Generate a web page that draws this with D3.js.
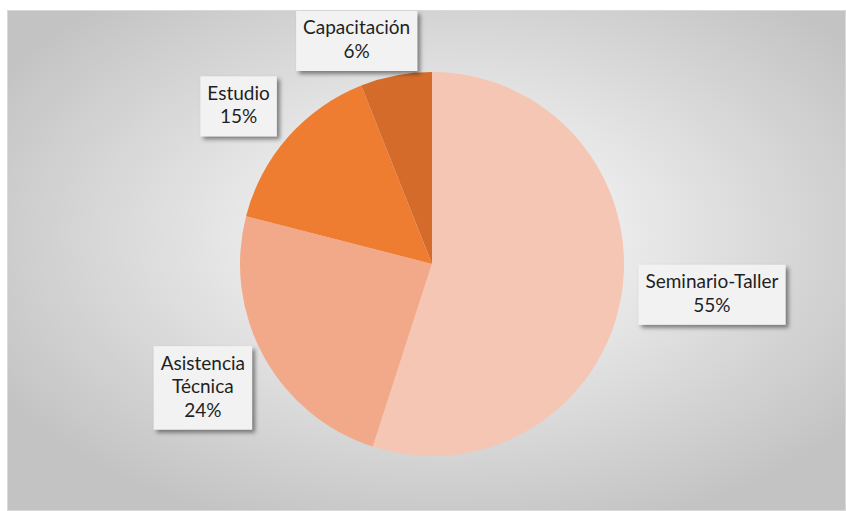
<!DOCTYPE html>
<html>
<head>
<meta charset="utf-8">
<script src="https://cdn.jsdelivr.net/npm/d3@7"></script>
<style>
  body { margin: 0; background: #fff; }
  svg { display: block; }
</style>
</head>
<body>
<svg></svg>
<script>
const categories = ['Seminario-Taller', 'Asistencia Técnica', 'Estudio', 'Capacitación'];
const values = [55, 24, 15, 6];
const labelLines = [['Seminario-Taller'], ['Asistencia', 'Técnica'], ['Estudio'], ['Capacitación']];
const colors = ['#F5C6B3', '#F1A98A', '#EE7D32', '#D46B2A'];

const width = 846;
const height = 511;
const cx = 432;
const cy = 264;
const radius = 192;
const lineH = 23.5;

// small hand tweaks so the label boxes sit where the original has them
const labelNudge = [[10, -12], [-2, -1], [-10, 4], [-31, -2]];

const svg = d3.select('svg')
  .attr('width', width)
  .attr('height', height);

const defs = svg.append('defs');

const grad = defs.append('radialGradient')
  .attr('id', 'bg')
  .attr('cx', '52%')
  .attr('cy', '45%')
  .attr('r', '62%');
grad.append('stop').attr('offset', '0%').attr('stop-color', '#ffffff');
grad.append('stop').attr('offset', '100%').attr('stop-color', '#c3c3c3');

const shadow = defs.append('filter')
  .attr('id', 'shadow')
  .attr('x', '-20%').attr('y', '-20%')
  .attr('width', '150%').attr('height', '150%');
shadow.append('feDropShadow')
  .attr('dx', 3).attr('dy', 3)
  .attr('stdDeviation', 2)
  .attr('flood-color', '#000')
  .attr('flood-opacity', 0.45);

// chart area
svg.append('rect')
  .attr('x', 7.5)
  .attr('y', 10.5)
  .attr('width', width - 8)
  .attr('height', height - 11)
  .attr('fill', 'url(#bg)')
  .attr('stroke', '#d9d9d9');

const pie = d3.pie().sort(null).value(d => d);
const arcs = pie(values);

const arc = d3.arc().innerRadius(0).outerRadius(radius);

const g = svg.append('g').attr('transform', `translate(${cx},${cy})`);

g.selectAll('path')
  .data(arcs)
  .enter()
  .append('path')
  .attr('d', arc)
  .attr('fill', (d, i) => colors[i]);

// labels, placed outside the end of each slice
const labels = svg.append('g');

arcs.forEach((a, i) => {
  const lines = labelLines[i].concat([values[i] + '%']);
  const lg = labels.append('g');
  const box = lg.append('rect')
    .attr('fill', '#f2f2f2')
    .attr('filter', 'url(#shadow)');
  const text = lg.append('text')
    .attr('font-family', 'Lato, Calibri, sans-serif')
    .attr('font-size', 19)
    .attr('fill', '#1f1f1f')
    .attr('text-anchor', 'middle');
  lines.forEach((t, j) => {
    text.append('tspan')
      .attr('x', 0)
      .attr('y', j * lineH)
      .text(t);
  });
  let w = 0;
  text.selectAll('tspan').each(function () {
    w = Math.max(w, this.getComputedTextLength());
  });
  const bw = w + 14;
  const bh = lines.length * lineH + 13;

  const mid = (a.startAngle + a.endAngle) / 2;
  const ux = Math.sin(mid);
  const uy = -Math.cos(mid);
  const d = radius + 4 + Math.abs(ux) * bw / 2 + Math.abs(uy) * bh / 2;
  let lx = cx + ux * d + labelNudge[i][0];
  let ly = cy + uy * d + labelNudge[i][1];
  ly = Math.max(ly, 11 + bh / 2);

  box.attr('x', lx - bw / 2)
    .attr('y', ly - bh / 2)
    .attr('width', bw)
    .attr('height', bh);
  text.attr('transform', `translate(${lx},${ly - bh / 2 + 6.5 + lineH * 0.72})`);
});
</script>
</body>
</html>
